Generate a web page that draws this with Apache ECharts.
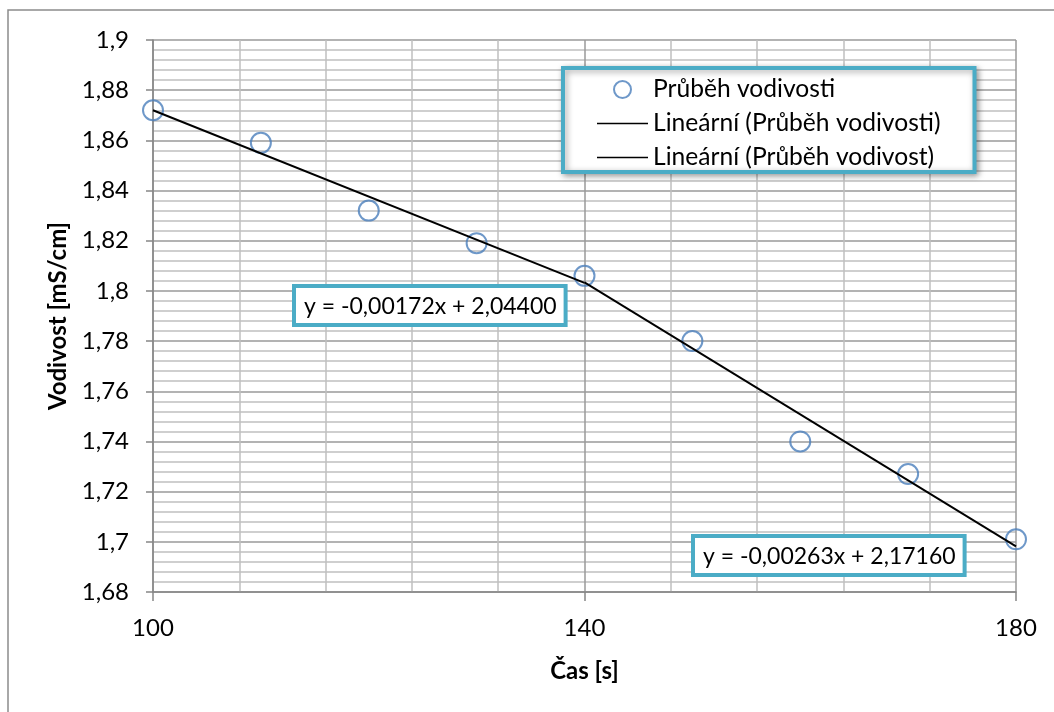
<!DOCTYPE html>
<html>
<head>
<meta charset="utf-8">
<script src="https://cdn.jsdelivr.net/npm/echarts@6/dist/echarts.min.js"></script>
<style>
  html, body { margin: 0; padding: 0; background: #fff; }
  #chart { width: 1054px; height: 712px; }
</style>
</head>
<body>
<div id="chart"></div>
<script>
// Measured conductivity over time
const timeSec = [100, 110, 120, 130, 140, 150, 160, 170, 180];
const conductivity = [1.872, 1.859, 1.832, 1.819, 1.806, 1.780, 1.740, 1.727, 1.701];

// Linear trend lines: [xStart, xEnd], slope, intercept
const trendNames = ['Lineární (Průběh vodivosti)', 'Lineární (Průběh vodivost)'];
const trendRanges = [[100, 140], [140, 180]];
const trendSlopes = [-0.00172, -0.00263];
const trendIntercepts = [2.04400, 2.17160];
const trendLabels = ['y = -0,00172x + 2,04400', 'y = -0,00263x + 2,17160'];

const seriesName = 'Průběh vodivosti';
const xTitle = 'Čas [s]';
const yTitle = 'Vodivost [mS/cm]';

const FONT = 'Lato, "Open Sans", sans-serif';
const TEAL = '#4BACC6';

function czNum(v) {
  const r = Math.round(v * 1000) / 1000;
  return String(r).replace('.', ',');
}

const trendSeries = trendRanges.map((rng, i) => ({
  name: trendNames[i],
  type: 'line',
  symbol: 'none',
  z: 5,
  itemStyle: { color: '#000' },
  lineStyle: { color: '#000', width: 1.9 },
  data: rng.map(x => [x, trendSlopes[i] * x + trendIntercepts[i]])
}));

const chart = echarts.init(document.getElementById('chart'), null, { renderer: 'canvas' });

const labelBox = (text, left, top) => ({
  type: 'text',
  left: left,
  top: top,
  z: 20,
  style: {
    text: text,
    font: '23px ' + FONT,
    fill: '#000',
    backgroundColor: '#fff',
    borderColor: TEAL,
    borderWidth: 4,
    padding: [7, 7, 5, 8],
    boxShadowBlur: 6,
    boxShadowColor: 'rgba(0,0,0,0.35)',
    boxShadowOffsetX: 2,
    boxShadowOffsetY: 2
  }
});

const lineIcon = 'path://M0,0H60V2H0Z';

chart.setOption({
  backgroundColor: '#fff',
  animation: false,
  textStyle: { fontFamily: FONT },
  grid: { left: 153, right: 38, top: 40, bottom: 120, containLabel: false },
  legend: {
    orient: 'vertical',
    left: 563,
    top: 68,
    data: [
      { name: seriesName, icon: 'circle' },
      { name: trendNames[0], icon: lineIcon, itemStyle: { color: '#000', borderWidth: 0 } },
      { name: trendNames[1], icon: lineIcon, itemStyle: { color: '#000', borderWidth: 0 } }
    ],
    itemWidth: 51,
    itemHeight: 17,
    itemGap: 9,
    padding: [9, 34, 2, 34],
    backgroundColor: '#fff',
    borderColor: TEAL,
    borderWidth: 4,
    borderRadius: 0,
    shadowBlur: 6,
    shadowColor: 'rgba(0,0,0,0.35)',
    shadowOffsetX: 2,
    shadowOffsetY: 2,
    textStyle: { fontSize: 24.6, lineHeight: 24, color: '#000', fontFamily: FONT, padding: [0, 0, 0, 0] }
  },
  xAxis: {
    type: 'value',
    min: 100,
    max: 180,
    interval: 40,
    name: xTitle,
    nameLocation: 'middle',
    nameGap: 67,
    nameMoveOverlap: false,
    nameTextStyle: { fontSize: 24, fontWeight: 'bold', color: '#000', fontFamily: FONT },
    axisLine: { show: true, lineStyle: { color: '#868686', width: 1.5 } },
    axisTick: { show: true, length: 9, lineStyle: { color: '#868686', width: 1.5 } },
    axisLabel: { fontSize: 24, color: '#000', margin: 24, fontFamily: FONT },
    splitLine: { show: true, lineStyle: { color: '#9a9a9a', width: 1.5 } },
    minorTick: { show: false, splitNumber: 5 },
    minorSplitLine: { show: true, lineStyle: { color: '#c0c0c0', width: 1.5 } }
  },
  yAxis: {
    type: 'value',
    min: 1.68,
    max: 1.9,
    interval: 0.02,
    axisLine: { show: true, lineStyle: { color: '#868686', width: 1.5 } },
    axisTick: { show: true, length: 7, lineStyle: { color: '#868686', width: 1.5 } },
    axisLabel: { fontSize: 24, color: '#000', margin: 24, fontFamily: FONT, formatter: czNum },
    splitLine: { show: true, lineStyle: { color: '#9a9a9a', width: 1.5 } },
    minorTick: { show: false, splitNumber: 5 },
    minorSplitLine: { show: true, lineStyle: { color: '#c0c0c0', width: 1.5 } }
  },
  series: [
    {
      name: seriesName,
      type: 'scatter',
      symbol: 'circle',
      symbolSize: 20,
      z: 3,
      itemStyle: { color: 'rgba(255,255,255,0)', borderColor: '#4A7EBB', borderWidth: 2 },
      data: timeSec.map((t, i) => [t, conductivity[i]])
    },
    ...trendSeries
  ],
  graphic: [
    {
      type: 'rect',
      z: 0,
      shape: { x: 8, y: 10, width: 1200, height: 900 },
      style: { fill: 'none', stroke: '#8c8c8c', lineWidth: 1.5 }
    },
    // vertical axis title, centred on the plot height
    {
      type: 'text',
      x: 58,
      y: 316,
      rotation: Math.PI / 2,
      z: 10,
      style: {
        text: yTitle,
        font: 'bold 24px ' + FONT,
        fill: '#000',
        align: 'center',
        verticalAlign: 'middle'
      }
    },
    labelBox(trendLabels[0], 292, 284),
    labelBox(trendLabels[1], 691, 534)
  ]
});
</script>
</body>
</html>
